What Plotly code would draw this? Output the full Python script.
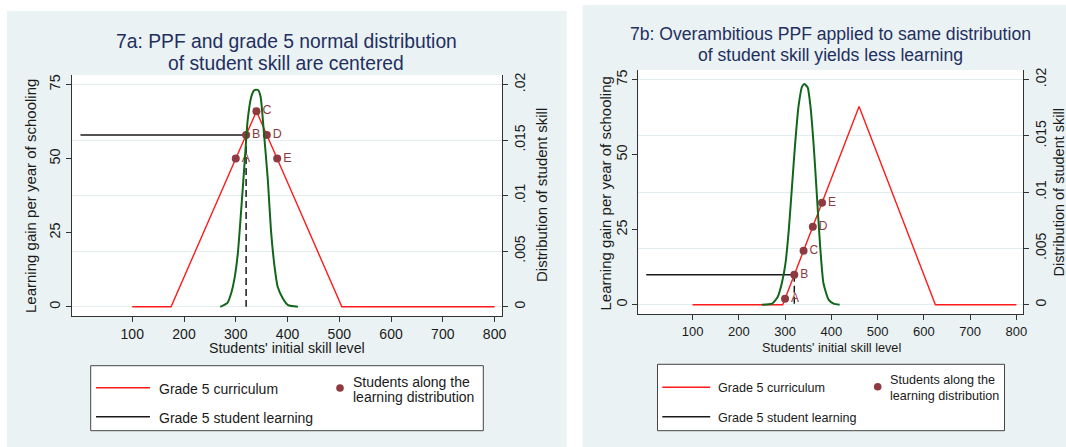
import plotly.graph_objects as go

# ---------------- data ----------------
skill_ticks = [100, 200, 300, 400, 500, 600, 700, 800]
gain_ticks = [0, 25, 50, 75]
density_ticks = [0, 0.005, 0.01, 0.015, 0.02]
density_ticktext = ["0", ".005", ".01", ".015", ".02"]

# PPF (grade 5 curriculum)
curric_a_x = [100, 175, 340, 505, 800]
curric_a_y = [0, 0, 66, 0, 0]
curric_b_x = [100, 295, 460, 625, 800]
curric_b_y = [0, 0, 66, 0, 0]

# students along the learning distribution
students_x = [300, 320, 340, 360, 380]
students_a_y = [50, 58, 66, 58, 50]
students_b_y = [2, 10, 18, 26, 34]
student_labels = ["A", "B", "C", "D", "E"]

# grade 5 student learning (median student B)
learning_x = [0, 320]
learning_a_y = 58
learning_b_y = 10

# distribution of student skill (density)
dens_a_x = [270, 284, 291, 297, 304, 310, 317, 323, 330, 336, 343, 348, 354, 362, 368, 375, 381, 391, 401, 420]
dens_a_y = [0, 0.00036, 0.0012, 0.0024, 0.0048, 0.0084, 0.0129, 0.0168, 0.0189, 0.0195, 0.0195, 0.0189,
            0.0159, 0.0114, 0.0069, 0.0036, 0.0018, 0.00075, 0.00015, 0]
dens_b_x = [250, 272, 284, 293, 301, 308, 315, 322, 329, 337, 342, 349, 355, 362, 369, 376, 383, 394, 405, 418]
dens_b_y = [0, 0.0001, 0.00068, 0.0019, 0.0037, 0.0066, 0.0105, 0.0144, 0.0176, 0.0194, 0.0196, 0.0193,
            0.0176, 0.0141, 0.0096, 0.0051, 0.0019, 0.00045, 0.0001, 0]

titles_a = ["7a: PPF and grade 5 normal distribution", "of student skill are centered"]
titles_b = ["7b: Overambitious PPF applied to same distribution", "of student skill yields less learning"]
x_title = "Students' initial skill level"
y_title = "Learning gain per year of schooling"
y2_title = "Distribution of student skill"
legend_labels = ["Grade 5 curriculum", "Grade 5 student learning", "Students along the", "learning distribution"]

# ---------------- style ----------------
W, H = 1066, 447
FONT = "Liberation Sans, Arial, sans-serif"
PANEL = "#EAF2F3"
GRID = "#E3ECEE"
RED = "#FF1A1A"
GREEN = "#11661A"
MAROON = "#8E3A40"
BLACK = "#1A1A1A"
TITLE_C = "#1F2F5F"
TEXT_C = "#1A1A1A"
AXIS_C = "#333333"

gain_range = [-3.1, 78.2]
dens_range = [v * 0.02 / 75 for v in gain_range]
x_range = [-17, 815]


def px(x):
    return x / W


def py(y):
    return 1 - y / H


fig = go.Figure()


def add_panel(xa, ya, ya2, cx, cy, sx, sy, dx, dy, learn_y, lab_size):
    fig.add_trace(go.Scatter(x=cx, y=cy, mode="lines", line=dict(color=RED, width=1.4),
                             xaxis=xa, yaxis=ya, hoverinfo="skip", showlegend=False))
    fig.add_trace(go.Scatter(x=learning_x, y=[learn_y, learn_y], mode="lines",
                             line=dict(color=BLACK, width=1.5),
                             xaxis=xa, yaxis=ya, showlegend=False))
    fig.add_trace(go.Scatter(x=[learning_x[1], learning_x[1]], y=[learn_y, 0], mode="lines",
                             line=dict(color=BLACK, width=1.5, dash="7px,4px"),
                             xaxis=xa, yaxis=ya, showlegend=False))
    fig.add_trace(go.Scatter(x=sx, y=sy, mode="markers+text", text=student_labels,
                             textposition="middle right",
                             textfont=dict(color=MAROON, size=lab_size, family=FONT),
                             marker=dict(color=MAROON, size=8),
                             xaxis=xa, yaxis=ya, showlegend=False))
    fig.add_trace(go.Scatter(x=dx, y=dy, mode="lines", line=dict(color=GREEN, width=2, shape="spline", smoothing=0.5),
                             xaxis=xa, yaxis=ya2, showlegend=False))


add_panel("x", "y", "y2", curric_a_x, curric_a_y, students_x, students_a_y, dens_a_x, dens_a_y, learning_a_y, 12.5)
add_panel("x2", "y3", "y4", curric_b_x, curric_b_y, students_x, students_b_y, dens_b_x, dens_b_y, learning_b_y, 12)

# plot area boxes (pixel)
A = dict(l=71.7, r=502.3, t=75, b=316)
B = dict(l=638.4, r=1023.3, t=70, b=314)

axis_common = dict(showline=True, linecolor=AXIS_C, linewidth=1, ticks="outside", ticklen=5,
                   tickcolor=AXIS_C, tickwidth=1, zeroline=False, automargin=False)

layout = dict(
    width=W, height=H, margin=dict(l=0, r=0, t=0, b=0),
    paper_bgcolor="white", plot_bgcolor="white", template="none",
    font=dict(family=FONT, color=TEXT_C, size=14),
    xaxis=dict(domain=[px(A["l"]), px(A["r"])], range=x_range, tickvals=skill_ticks, anchor="y",
               showgrid=False, tickfont=dict(size=14), **axis_common),
    yaxis=dict(domain=[py(A["b"]), py(A["t"])], range=gain_range, tickvals=gain_ticks, anchor="x",
               showgrid=False, tickangle=-90, tickfont=dict(size=14.5), **axis_common),
    yaxis2=dict(overlaying="y", side="right", anchor="x", range=dens_range, tickvals=density_ticks,
                ticktext=density_ticktext, showgrid=True, gridcolor=GRID, gridwidth=1.3,
                tickangle=-90, tickfont=dict(size=14), **axis_common),
    xaxis2=dict(domain=[px(B["l"]), px(B["r"])], range=x_range, tickvals=skill_ticks, anchor="y3",
                showgrid=False, tickfont=dict(size=13), **axis_common),
    yaxis3=dict(domain=[py(B["b"]), py(B["t"])], range=gain_range, tickvals=gain_ticks, anchor="x2",
                showgrid=False, tickangle=-90, tickfont=dict(size=14.5), **axis_common),
    yaxis4=dict(overlaying="y3", side="right", anchor="x2", range=dens_range, tickvals=density_ticks,
                ticktext=density_ticktext, showgrid=True, gridcolor=GRID, gridwidth=1.3,
                tickangle=-90, tickfont=dict(size=14), **axis_common),
)
fig.update_layout(**layout)

shapes = []
# panel backgrounds
shapes.append(dict(type="rect", xref="paper", yref="paper", x0=px(7), x1=px(566.7), y0=py(447), y1=py(11),
                   fillcolor=PANEL, line=dict(width=0), layer="below"))
shapes.append(dict(type="rect", xref="paper", yref="paper", x0=px(582.7), x1=px(1066), y0=py(447), y1=py(5),
                   fillcolor=PANEL, line=dict(width=0), layer="below"))
# white plot areas
for xr, yr in [("x", "y"), ("x2", "y3")]:
    shapes.append(dict(type="rect", xref=xr + " domain", yref=yr + " domain", x0=0, x1=1, y0=0, y1=1,
                       fillcolor="white", line=dict(width=0), layer="below"))

annotations = []


def ann(text, x, y, size, color=TEXT_C, xanchor="center", yanchor="middle", angle=0):
    annotations.append(dict(text=text, x=px(x), y=py(y), xref="paper", yref="paper", showarrow=False,
                            xanchor=xanchor, yanchor=yanchor, textangle=angle,
                            font=dict(size=size, color=color, family=FONT)))


# titles
ann(titles_a[0], 286, 41.5, 19.3, TITLE_C)
ann(titles_a[1], 286, 63, 19.3, TITLE_C)
ann(titles_b[0], 830, 33.5, 17.6, TITLE_C)
ann(titles_b[1], 830, 55, 17.6, TITLE_C)
# axis titles
ann(x_title, 287, 348, 14.2)
ann(y_title, 31, 196, 15, angle=-90)
ann(y2_title, 542, 195, 15, angle=-90)
ann(x_title, 831, 347.5, 12.7)
ann(y_title, 605, 193.5, 15, angle=-90)
ann(y2_title, 1058, 192.5, 14.5, angle=-90)


def legend_box(l, r, t, b, lx0, lx1, ly1, ly2, tx, mx, my, sx, sy1, sy2, fsize):
    shapes.append(dict(type="rect", xref="paper", yref="paper", x0=px(l), x1=px(r), y0=py(b), y1=py(t),
                       fillcolor="white", line=dict(color="#444444", width=1)))
    shapes.append(dict(type="line", xref="paper", yref="paper", x0=px(lx0), x1=px(lx1), y0=py(ly1), y1=py(ly1),
                       line=dict(color=RED, width=1.5)))
    shapes.append(dict(type="line", xref="paper", yref="paper", x0=px(lx0), x1=px(lx1), y0=py(ly2), y1=py(ly2),
                       line=dict(color=BLACK, width=1.5)))
    shapes.append(dict(type="circle", xref="paper", yref="paper", x0=px(mx - 3.8), x1=px(mx + 3.8),
                       y0=py(my + 3.8), y1=py(my - 3.8), fillcolor=MAROON, line=dict(width=0)))
    ann(legend_labels[0], tx, ly1 + 1, fsize, xanchor="left")
    ann(legend_labels[1], tx, ly2 + 1, fsize, xanchor="left")
    ann(legend_labels[2], sx, sy1, fsize, xanchor="left")
    ann(legend_labels[3], sx, sy2, fsize, xanchor="left")


legend_box(90.7, 483.3, 365.7, 430.7, 96, 150, 387.7, 416.7, 157, 340, 388, 350.5, 381.7, 396.7, 14)
legend_box(657.5, 1004.5, 364.3, 430.7, 662.3, 710.2, 387.3, 416.7, 716, 877.7, 386.7, 887.5, 380, 396, 12.6)

fig.update_layout(shapes=shapes, annotations=annotations)

fig.write_html("out.html", config={"displayModeBar": False},
               post_script="document.body.style.margin='0';document.body.style.padding='0';")
